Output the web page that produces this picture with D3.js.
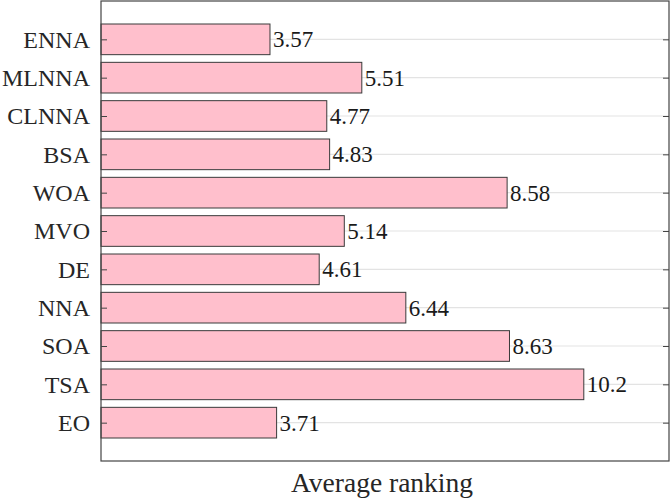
<!DOCTYPE html>
<html lang="en">
<head>
    <meta charset="UTF-8">
    <title>Average ranking</title>
    <script src="https://d3js.org/d3.v7.min.js"></script>
    <style>
        body{ margin:0; background-color:white; }
        svg{ display:block; }
    </style>
</head>
<body>
    <script>
        // data, top to bottom as drawn
        const algorithms = ["ENNA","MLNNA","CLNNA","BSA","WOA","MVO","DE","NNA","SOA","TSA","EO"];
        const ranking = [3.57,5.51,4.77,4.83,8.58,5.14,4.61,6.44,8.63,10.2,3.71];
        const xLabel = "Average ranking";

        const font = "'Liberation Serif', 'DejaVu Serif', 'Noto Serif', 'Noto Serif CJK SC', FreeSerif, Tinos, 'Nimbus Roman', serif";
        const w = 670;
        const h = 503;
        const margin = {left:101,right:1,top:1,bottom:42};
        const iw = w - margin.left - margin.right;
        const ih = h - margin.top - margin.bottom;

        const svg = d3.select("body").append("svg").attr("width",w).attr("height",h);
        const g = svg.append("g").attr("transform","translate("+margin.left+","+margin.top+")");

        const xScale = d3.scaleLinear().domain([0,12]).range([0,iw]);
        // positions 1..11 on a 0..12 range, like matlab barh
        const yScale = d3.scaleLinear().domain([0,12]).range([0,ih]);
        const bw = 0.8;

        // grid lines at each category
        g.selectAll("line.grid")
            .data(algorithms)
            .enter()
            .append("line")
            .attr("class","grid")
            .attr("x1",0).attr("x2",iw)
            .attr("y1",function(d,i){ return yScale(i+1); })
            .attr("y2",function(d,i){ return yScale(i+1); })
            .attr("stroke","#e3e3e3")
            .attr("stroke-width",1.2);

        g.selectAll("rect.bar")
            .data(ranking)
            .enter()
            .append("rect")
            .attr("class","bar")
            .attr("x",xScale(0))
            .attr("y",function(d,i){ return yScale(i+1-bw/2); })
            .attr("width",function(d){ return xScale(d)-xScale(0); })
            .attr("height",yScale(bw)-yScale(0))
            .attr("fill","#ffbfcc")
            .attr("stroke","#3a3a3a")
            .attr("stroke-width",1);

        g.selectAll("text.val")
            .data(ranking)
            .enter()
            .append("text")
            .attr("class","val")
            .attr("x",function(d){ return xScale(d)+3; })
            .attr("y",function(d,i){ return yScale(i+1); })
            .attr("dy","0.35em")
            .style("font-family",font)
            .style("font-size","23px")
            .style("fill","#1a1a1a")
            .text(function(d){ return d3.format(".3~")(d); });

        // left axis with category labels, ticks inside
        const yAxis = d3.axisLeft(yScale)
            .tickValues(d3.range(1,12))
            .tickFormat(function(d){ return algorithms[d-1]; })
            .tickSize(-6)
            .tickPadding(11);
        const ya = g.append("g").attr("class","axis").call(yAxis);
        ya.select(".domain").remove();
        ya.selectAll("line").attr("stroke","#444");
        ya.selectAll("text")
            .style("font-family",font)
            .style("font-size","24px")
            .style("fill","#262626");

        const yAxisR = d3.axisRight(yScale)
            .tickValues(d3.range(1,12))
            .tickFormat("")
            .tickSize(-6);
        const yr = g.append("g").attr("transform","translate("+iw+",0)").call(yAxisR);
        yr.select(".domain").remove();
        yr.selectAll("line").attr("stroke","#444");

        // box
        g.append("rect")
            .attr("x",0).attr("y",0)
            .attr("width",iw).attr("height",ih)
            .attr("fill","none")
            .attr("stroke","#444")
            .attr("stroke-width",1.2);

        svg.append("text")
            .attr("x",margin.left+iw/2 - 3)
            .attr("y",492)
            .attr("text-anchor","middle")
            .style("font-family",font)
            .style("font-size","27.5px")
            .style("fill","#262626")
            .text(xLabel);
    </script>
</body>
</html>
